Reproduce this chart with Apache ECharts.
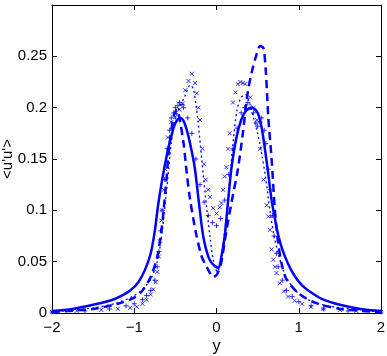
<!DOCTYPE html>
<html>
<head>
<meta charset="utf-8">
<script src="https://cdn.jsdelivr.net/npm/echarts@6/dist/echarts.min.js"></script>
<style>
html, body { margin: 0; padding: 0; background: #fff; }
#main { width: 387px; height: 356px; }
</style>
</head>
<body>
<div id="main"></div>
<script>
// solid line
var solidX = [-2,-1.75,-1.5,-1.3,-1.2,-1.05,-0.95,-0.87,-0.8,-0.75,-0.71,-0.66,-0.6,-0.55,-0.5,-0.44,-0.4,-0.35,-0.3,-0.26,-0.21,-0.16,-0.1,-0.05,0.02,0.06,0.1,0.14,0.18,0.24,0.3,0.36,0.43,0.5,0.55,0.59,0.63,0.67,0.71,0.75,0.8,0.87,0.95,1.04,1.17,1.3,1.5,1.75,2];
var solidY = [0.002,0.004,0.008,0.012,0.015,0.022,0.03,0.042,0.058,0.08,0.105,0.13,0.155,0.172,0.185,0.19,0.187,0.175,0.157,0.139,0.105,0.074,0.055,0.048,0.044,0.055,0.075,0.108,0.14,0.17,0.188,0.197,0.2,0.195,0.18,0.159,0.135,0.11,0.092,0.076,0.062,0.048,0.036,0.027,0.019,0.013,0.008,0.004,0.002];

// dashed line
var dashX = [-2,-1.5,-1.2,-1,-0.9,-0.8,-0.72,-0.67,-0.62,-0.57,-0.52,-0.48,-0.44,-0.4,-0.36,-0.32,-0.25,-0.18,-0.12,-0.08,-0.04,0,0.03,0.06,0.12,0.2,0.26,0.32,0.38,0.43,0.48,0.53,0.57,0.6,0.63,0.67,0.71,0.75,0.8,0.85,1,1.2,1.5,2];
var dashY = [0.001,0.004,0.009,0.015,0.022,0.035,0.055,0.08,0.12,0.165,0.192,0.198,0.185,0.165,0.135,0.11,0.078,0.055,0.045,0.039,0.035,0.037,0.042,0.05,0.08,0.115,0.14,0.175,0.215,0.235,0.25,0.26,0.258,0.235,0.19,0.15,0.1,0.068,0.045,0.033,0.019,0.01,0.004,0.001];

// dotted line
var dotX = [-2,-1.5,-1.2,-1,-0.9,-0.8,-0.72,-0.66,-0.6,-0.55,-0.5,-0.45,-0.38,-0.32,-0.28,-0.23,-0.18,-0.13,-0.08,-0.04,0.01,0.05,0.1,0.15,0.2,0.25,0.3,0.35,0.4,0.45,0.5,0.55,0.6,0.65,0.7,0.75,0.82,0.9,1,1.2,1.5,2];
var dotY = [0.001,0.005,0.01,0.017,0.023,0.033,0.05,0.08,0.125,0.165,0.19,0.2,0.212,0.222,0.218,0.19,0.15,0.11,0.075,0.052,0.04,0.05,0.08,0.12,0.165,0.198,0.21,0.213,0.205,0.19,0.175,0.155,0.13,0.1,0.075,0.058,0.04,0.028,0.019,0.01,0.005,0.001];

// x markers
var crossX = [-2,-1.7,-1.4,-1.2,-1.05,-0.97,-0.9,-0.85,-0.8,-0.77,-0.74,-0.72,-0.7,-0.69,-0.67,-0.66,-0.64,-0.62,-0.59,-0.55,-0.5,-0.45,-0.41,-0.38,-0.34,-0.3,-0.26,-0.24,-0.22,-0.2,-0.17,-0.15,-0.13,-0.1,-0.08,-0.04,0,0.04,0.06,0.08,0.1,0.12,0.14,0.16,0.2,0.23,0.26,0.29,0.32,0.35,0.41,0.45,0.49,0.53,0.57,0.61,0.63,0.65,0.67,0.69,0.71,0.73,0.77,0.82,0.87,0.95,1.04,1.15,1.3,1.5,1.7,2];
var crossY = [0.001,0.002,0.003,0.004,0.005,0.006,0.009,0.013,0.018,0.023,0.03,0.04,0.055,0.07,0.09,0.1,0.12,0.14,0.171,0.186,0.191,0.198,0.204,0.217,0.226,0.233,0.224,0.214,0.2,0.188,0.16,0.145,0.13,0.12,0.113,0.102,0.097,0.103,0.107,0.12,0.133,0.142,0.16,0.175,0.205,0.215,0.223,0.225,0.224,0.223,0.21,0.2,0.188,0.16,0.13,0.105,0.094,0.081,0.062,0.052,0.045,0.039,0.029,0.021,0.016,0.012,0.009,0.006,0.004,0.003,0.002,0.001];

// + markers
var plusX = [-2,-1.6,-1.3,-1.1,-1,-0.9,-0.85,-0.8,-0.75,-0.72,-0.7,-0.68,-0.66,-0.63,-0.6,-0.57,-0.55,-0.52,-0.5,-0.47,-0.45,-0.42,-0.4,-0.35,-0.3,-0.25,-0.2,-0.15,-0.1,-0.05,0,0.05,0.1,0.15,0.2,0.25,0.3,0.34,0.38,0.42,0.45,0.48,0.5,0.53,0.55,0.58,0.6,0.63,0.65,0.68,0.7,0.73,0.75,0.8,0.85,0.92,1,1.15,1.3,1.6,2];
var plusY = [0.001,0.002,0.004,0.007,0.009,0.013,0.017,0.022,0.032,0.045,0.06,0.08,0.1,0.13,0.16,0.178,0.19,0.195,0.2,0.202,0.205,0.203,0.2,0.19,0.175,0.15,0.125,0.108,0.095,0.088,0.085,0.092,0.11,0.135,0.16,0.18,0.195,0.2,0.205,0.2,0.195,0.185,0.182,0.186,0.19,0.178,0.165,0.14,0.12,0.095,0.075,0.058,0.045,0.032,0.022,0.016,0.011,0.007,0.004,0.002,0.001];

var blue = '#0000ff';
var font = 'Liberation Sans, Arial, Helvetica, sans-serif';

function pairs(xs, ys) {
    return xs.map(function (x, i) { return [x, ys[i]]; });
}

function minus(v) {
    return String(v).replace('-', '\u2212');
}

var tickStyle = { show: true, inside: true, length: 5, lineStyle: { color: '#000', width: 1 } };
var lineStyleAxis = { show: true, onZero: false, lineStyle: { color: '#000', width: 1 } };

var myChart = echarts.init(document.getElementById('main'));

var option = {
    animation: false,
    backgroundColor: '#fff',
    grid: { left: 52, right: 6, top: 5, bottom: 43, containLabel: false, outerBoundsMode: 'none' },
    xAxis: [{
        type: 'value',
        min: -2, max: 2, interval: 1,
        name: 'y',
        nameLocation: 'middle',
        nameGap: 26,
        nameMoveOverlap: false,
        nameTextStyle: { color: '#000', fontSize: 16, fontFamily: font },
        axisLine: lineStyleAxis,
        axisTick: tickStyle,
        splitLine: { show: false },
        axisLabel: { color: '#000', fontSize: 15, fontFamily: font, margin: 7, formatter: minus }
    }, {
        type: 'value',
        position: 'top',
        min: -2, max: 2, interval: 1,
        axisLine: lineStyleAxis,
        axisTick: tickStyle,
        splitLine: { show: false },
        axisLabel: { show: false }
    }],
    yAxis: [{
        type: 'value',
        min: 0, max: 0.3, interval: 0.05,
        name: "<u'u'>",
        nameLocation: 'middle',
        nameRotate: 90,
        nameGap: 37,
        nameMoveOverlap: false,
        nameTextStyle: { color: '#000', fontSize: 15, fontFamily: font },
        axisLine: lineStyleAxis,
        axisTick: tickStyle,
        splitLine: { show: false },
        axisLabel: {
            color: '#000', fontSize: 15, fontFamily: font, margin: 5,
            formatter: function (v) { return v > 0.28 ? '' : String(v); }
        }
    }, {
        type: 'value',
        position: 'right',
        min: 0, max: 0.3, interval: 0.05,
        axisLine: lineStyleAxis,
        axisTick: tickStyle,
        splitLine: { show: false },
        axisLabel: { show: false }
    }],
    series: [{
        type: 'line',
        data: pairs(dotX, dotY),
        showSymbol: false,
        smooth: 0.3,
        lineStyle: { color: blue, width: 1.3, type: [2, 3] }
    }, {
        type: 'scatter',
        data: pairs(crossX, crossY),
        symbol: 'path://M0,0L10,10M0,10L10,0',
        symbolSize: 4,
        itemStyle: { color: 'transparent', borderColor: blue, borderWidth: 1 }
    }, {
        type: 'scatter',
        data: pairs(plusX, plusY),
        symbol: 'path://M5,0L5,10M0,5L10,5',
        symbolSize: 5,
        itemStyle: { color: 'transparent', borderColor: blue, borderWidth: 1 }
    }, {
        type: 'line',
        data: pairs(dashX, dashY),
        showSymbol: false,
        smooth: 0.3,
        lineStyle: { color: blue, width: 2.5, type: [8, 5] }
    }, {
        type: 'line',
        data: pairs(solidX, solidY),
        showSymbol: false,
        smooth: 0.3,
        lineStyle: { color: blue, width: 2.5 }
    }]
};

myChart.setOption(option);
</script>
</body>
</html>
